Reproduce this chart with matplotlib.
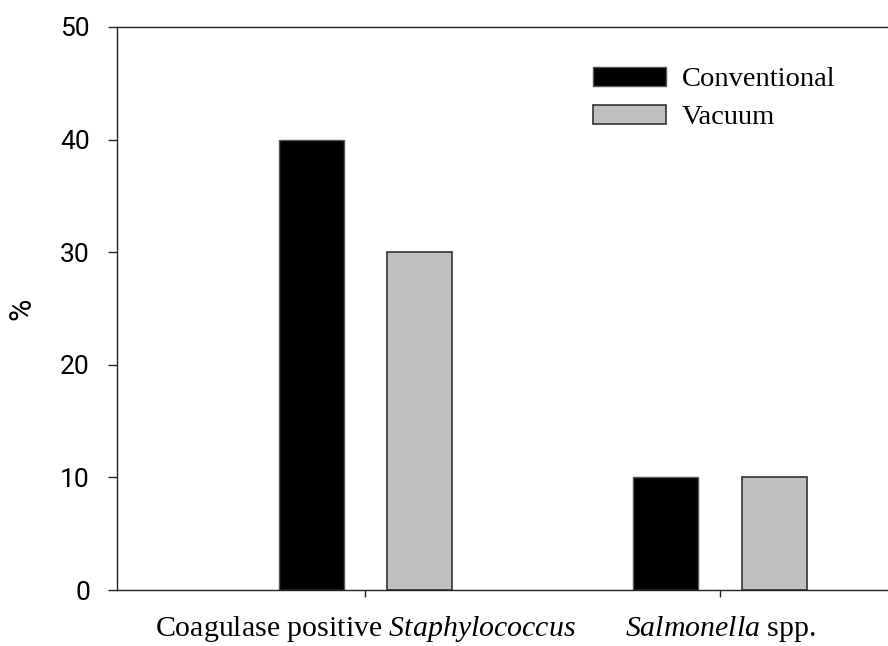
import numpy as np
import matplotlib
matplotlib.use("Agg")
import matplotlib.pyplot as plt

# data
categories = [r"Coagulase positive $\it{Staphylococcus}$", r"$\it{Salmonella}$ spp."]
conventional = [40, 10]
vacuum = [30, 10]
series_names = ["Conventional", "Vacuum"]
y_ticks = [0, 10, 20, 30, 40, 50]

plt.rcParams["mathtext.fontset"] = "custom"
plt.rcParams["mathtext.rm"] = "Liberation Serif"
plt.rcParams["mathtext.it"] = "Liberation Serif:italic"

fig = plt.figure(figsize=(8.88, 6.46), dpi=100)
ax = fig.add_axes([117 / 888, 56 / 646, 1 - 117 / 888, (590 - 27) / 646])

x = np.arange(len(categories))
w = 0.183
off = 0.153
ax.bar(x - off, conventional, w, color="black", edgecolor="#555555", linewidth=1.0,
       label=series_names[0])
ax.bar(x + off, vacuum, w, color="#c0c0c0", edgecolor="#333333", linewidth=1.2,
       label=series_names[1])

ax.set_xlim(-0.7, 1.473)
ax.set_ylim(0, 50)
ax.set_yticks(y_ticks)
ax.set_xticks(x)
ax.set_xticklabels(categories, family="Liberation Serif", fontsize=21.5)
for t in ax.get_yticklabels():
    t.set_family("Roboto")
    t.set_fontsize(19)
ax.tick_params(axis="y", direction="out", length=6.5, width=1.0, pad=13, colors="#222222",
               labelcolor="black")
ax.tick_params(axis="x", direction="out", length=5, width=1.0, pad=12.5, colors="#222222",
               labelcolor="black")

ax.spines["right"].set_visible(False)
for s in ["left", "bottom", "top"]:
    ax.spines[s].set_linewidth(1.0)
    ax.spines[s].set_color("#222222")

ax.set_ylabel("%", fontsize=22, family="Roboto", labelpad=17)

leg = ax.legend(loc="upper left", bbox_to_anchor=(593 / 888, 1 - 67 / 646),
                bbox_transform=fig.transFigure, frameon=False,
                prop={"family": "Liberation Serif", "size": 20.5},
                handlelength=2.57, handleheight=0.63, handletextpad=0.55,
                labelspacing=0.45, borderpad=0, borderaxespad=0)

fig.savefig("out.png", dpi=100)
